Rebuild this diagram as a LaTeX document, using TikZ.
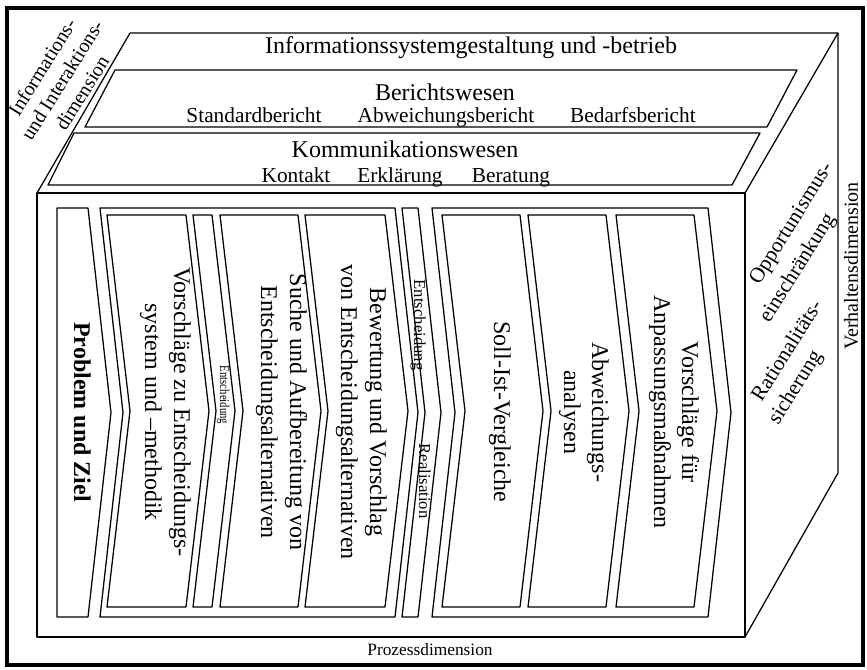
\documentclass[tikz,border=0pt]{standalone}
\usepackage{fontspec}
\setmainfont{Liberation Serif}
\newcommand\mychev[4]{%
  \draw[edge] (#1,#3) -- (#2,#3) -- ({#2+23},{(#3+#4)/2}) -- (#2,#4) -- (#1,#4) -- ({#1+23},{(#3+#4)/2}) -- cycle;}
\tikzset{
  edge/.style={line width=0.95pt, line join=round},
  frame/.style={line width=2.6pt},
  bandtitle/.style={font=\fontsize{18}{21}\selectfont, inner sep=0pt, anchor=base},
  bandsub/.style={font=\fontsize{16}{19}\selectfont, inner sep=0pt, anchor=base},
  chevtext/.style={font=\fontsize{18}{21}\selectfont, inner sep=0pt, anchor=base, rotate=-90},
  smalltext/.style={font=\fontsize{12.5}{14}\selectfont, inner sep=0pt, anchor=base, rotate=-90},
  dimA/.style={font=\fontsize{16}{19}\selectfont, inner sep=0pt, rotate=58},
  dimB/.style={font=\fontsize{15}{17}\selectfont, inner sep=0pt, rotate=58},
  dimC/.style={font=\fontsize{13}{15}\selectfont, inner sep=0pt}
}
\begin{document}
\begin{tikzpicture}[x=0.75pt,y=-0.75pt]
\useasboundingbox (0,0) rectangle (867,669);
% outer frame
\draw[frame] (7,8) rectangle (863,665);
% cube
\draw[edge] (37,193) rectangle (745,637);
\draw[edge] (37,193) -- (130,33) -- (838,33) -- (745,193);
\draw[edge] (838,33) -- (838,473) -- (745,637);
% top bands
\draw[edge] (115,70) -- (797,70) -- (767,127) -- (85,127) -- cycle;
\draw[edge] (74,133) -- (760,133) -- (732,185) -- (48,185) -- cycle;
% chevrons
\draw[edge] (57,208) -- (88,208) -- (111,412.5) -- (88,617) -- (57,617) -- cycle;
\mychev{100}{395}{208}{617}
\mychev{107}{186}{215}{607}
\mychev{193}{212}{215}{607}
\mychev{220}{298}{215}{607}
\mychev{305}{385}{215}{607}
\mychev{402}{418}{208}{617}
\mychev{432}{708}{208}{617}
\mychev{442}{520}{215}{607}
\mychev{528}{606}{215}{607}
\mychev{616}{694}{215}{607}
% top texts
\node[bandtitle] (t1) at (471,53) {Informationssystemgestaltung und -betrieb};
\node[bandtitle] (t2) at (445,100) {Berichtswesen};
\node[bandsub] (s1) at (254,122) {Standardbericht};
\node[bandsub] (s2) at (446,122) {Abweichungsbericht};
\node[bandsub] (s3) at (633,122) {Bedarfsbericht};
\node[bandtitle] (t3) at (405,157) {Kommunikationswesen};
\node[bandsub] (k1) at (296,182) {Kontakt};
\node[bandsub] (k2) at (400,182) {Erklärung};
\node[bandsub] (k3) at (511,182) {Beratung};
% chevron texts
\node[chevtext, font=\fontsize{18}{21}\selectfont\bfseries] (p) at (74,412) {Problem und Ziel};
\node[chevtext] (v1) at (174,412) {Vorschläge zu Entscheidungs-};
\node[chevtext] (v2) at (145,412) {system und –methodik};
\node[chevtext] (su1) at (290,412) {Suche und Aufbereitung von};
\node[chevtext] (su2) at (261,412) {Entscheidungsalternativen};
\node[chevtext] (b1) at (370,412) {Bewertung und Vorschlag};
\node[chevtext] (b2) at (341,412) {von Entscheidungsalternativen};
\node[chevtext] (si) at (494,412) {Soll-Ist-Vergleiche};
\node[chevtext] (a1) at (592,412) {Abweichungs-};
\node[chevtext] (a2) at (564,412) {analysen};
\node[chevtext] (vf1) at (682,412) {Vorschläge für};
\node[chevtext] (vf2) at (654,412) {Anpassungsmaßnahmen};
% small texts
\node[smalltext, font=\fontsize{10}{12}\selectfont] (e1) at (220,395) {\scalebox{0.8}[1]{Entscheidung}};
\node[smalltext] (e2) at (414,325) {Entscheidung};
\node[smalltext] (re) at (419,481) {Realisation};
% dimension labels
\node[dimA] (o1) at (792,224) {Opportunismus-};
\node[dimA] (o2) at (798,268) {einschränkung};
\node[dimA] (ra1) at (786,350) {Rationalitäts-};
\node[dimA] (ra2) at (796,388) {sicherung};
\node[dimB] (i1) at (42,67) {Informations-};
\node[dimB] (i2) at (62,80) {und Interaktions-};
\node[dimB] (i3) at (82,93) {dimension};
\node[dimC, font=\fontsize{15}{17}\selectfont, rotate=90] (vd) at (851,266) {Verhaltensdimension};
\node[dimC] (pd) at (430,650) {Prozessdimension};
\end{tikzpicture}
\end{document}
